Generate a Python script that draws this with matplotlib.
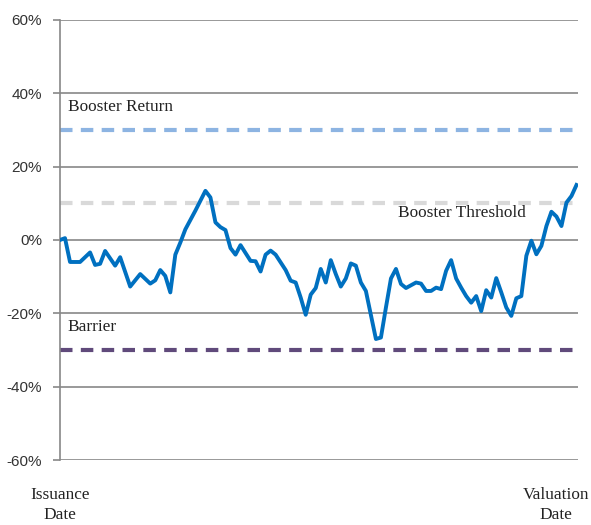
import matplotlib.pyplot as plt
from matplotlib.ticker import FuncFormatter

# weekly performance of the underlying (%)
weeks = [0, 1, 2, 4, 6, 7, 8, 9, 11, 12, 14, 16, 18, 19, 20, 21, 22, 23, 24, 25,
         27, 29, 30, 31, 32, 33, 34, 35, 36, 38, 39, 40, 41, 42, 43, 45, 46, 47, 48, 49,
         50, 51, 52, 53, 54, 55, 56, 57, 58, 59, 60, 61, 63, 64, 65, 66, 67, 68, 69, 71,
         72, 73, 74, 75, 76, 77, 78, 79, 80, 81, 82, 83, 84, 85, 86, 87, 88, 89, 90, 91,
         92, 93, 94, 95, 96, 97, 98, 99, 100, 101, 102, 103]
perf = [0.0, 0.5, -6.0, -6.0, -3.4, -6.8, -6.5, -3.0, -7.0, -4.7,
        -12.7, -9.3, -11.9, -11.0, -8.2, -9.8, -14.3, -4.0, -0.7, 2.9,
        8.0, 13.4, 11.6, 4.8, 3.5, 2.7, -2.2, -4.0, -1.4, -5.7,
        -5.8, -8.6, -4.0, -2.9, -4.0, -8.2, -11.1, -11.6, -15.7, -20.4,
        -14.9, -13.1, -7.9, -11.6, -5.5, -9.3, -12.7, -10.5, -6.4, -7.0,
        -11.6, -13.9, -27.0, -26.6, -18.4, -10.5, -7.9, -12.0, -13.1, -11.6,
        -11.9, -13.9, -13.9, -13.0, -13.4, -8.4, -5.5, -10.5, -13.0, -15.3,
        -17.1, -15.3, -19.4, -13.7, -15.7, -10.4, -14.3, -18.4, -20.7, -15.9,
        -15.3, -4.3, -0.2, -3.9, -1.6, 3.8, 7.7, 6.4, 3.8, 10.2,
        12.0, 15.0]

levels = [30, 10, -30]
level_names = ['Booster Return', 'Booster Threshold', 'Barrier']
level_colors = ['#8DB4E2', '#D9D9D9', '#604A7B']
yticks = [-60, -40, -20, 0, 20, 40, 60]

fig = plt.figure(figsize=(5.91, 5.25), dpi=100)
ax = fig.add_axes([0.1015, 0.1238, 0.8765, 0.8382])

for y in yticks:
    ax.axhline(y, color='#888888', lw=1.2, zorder=1)

for lv, c in zip(levels, level_colors):
    ax.axhline(lv, color=c, lw=3, dashes=(3, 2), zorder=2)

ax.plot(weeks, perf, color='#0070C0', lw=2.8, solid_joinstyle='round', zorder=3)

ax.set_xlim(0, 103.3)
ax.set_ylim(-60, 60)
ax.set_yticks(yticks)
ax.yaxis.set_major_formatter(FuncFormatter(lambda v, p: f'{v:.0f}%'))
ax.set_xticks([])
ax.tick_params(axis='y', length=5, width=1.2, color='#888888', pad=8,
               labelsize=11, labelcolor='#333333')
for lab in ax.get_yticklabels():
    lab.set_fontfamily('Liberation Sans')
for s in ['top', 'right', 'bottom']:
    ax.spines[s].set_visible(False)
ax.spines['left'].set_color('#888888')
ax.spines['left'].set_linewidth(1.2)

serif = dict(fontfamily='Liberation Serif', fontsize=12.4, color='#222222')
ax.text(1.5, 36.3, level_names[0], va='center', ha='left', **serif)
ax.text(67.4, 7.3, level_names[1], va='center', ha='left', **serif)
ax.text(1.5, -23.7, level_names[2], va='center', ha='left', **serif)

fig.text(60 / 591, 1 - 505 / 525, 'Issuance\nDate', ha='center', va='center',
         linespacing=1.3, **serif)
fig.text(556 / 591, 1 - 505 / 525, 'Valuation\nDate', ha='center', va='center',
         linespacing=1.3, **serif)

fig.savefig('out.png', dpi=100)
